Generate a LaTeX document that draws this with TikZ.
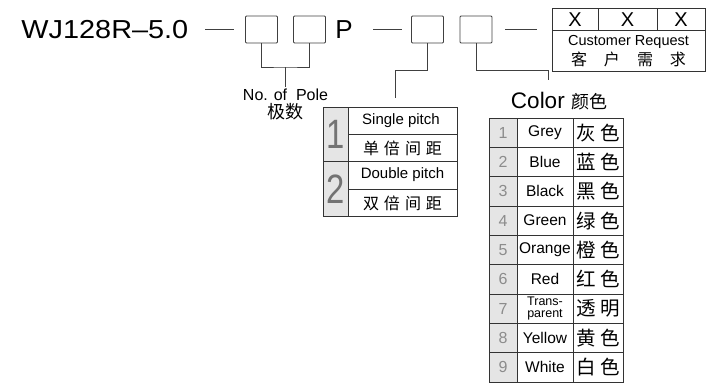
\documentclass[tikz,border=0pt]{standalone}
\usepackage{fontspec}
\setmainfont{Liberation Sans}
\newfontfamily\cjk{Noto Sans CJK SC}
\usetikzlibrary{positioning}

\tikzset{
  slot/.style={draw=black!75, rounded corners=1pt, minimum width=32pt, minimum height=27pt, inner sep=0pt},
  cell/.style={draw=black!80, line width=0.9pt},
  numfill/.style={fill=black!10},
  numtxt/.style={text=black!45},
}

\begin{document}
\begin{tikzpicture}[x=1pt,y=-1pt,line width=0.9pt]
\useasboundingbox (0,0) rectangle (720,391);

% model code
\node[anchor=base west, inner sep=0pt, font=\fontsize{26}{26}\selectfont] (model) at (21,38) {\scalebox{1.11}[1]{WJ128R–5.0}};
\draw[black!75] (205,29) -- (234,29);
\node[slot] (pole1) at (261.5,29.5) {};
\node[slot] (pole2) at (309.5,29.5) {};
\node[anchor=base west, inner sep=0pt, font=\fontsize{26}{26}\selectfont] (pch) at (335,38) {P};
\draw[black!75] (373,29) -- (402,29);
\node[slot] (pitch) at (427.5,29.5) {};
\node[slot] (color) at (476,29.5) {};
\draw[black!75] (505,29) -- (537,29);

% customer request
\draw[cell] (552,8) rectangle (705,71);
\draw[cell] (552,30) -- (705,30);
\draw[cell] (598,8) -- (598,30);
\draw[cell] (657,8) -- (657,30);
\node[font=\fontsize{20}{20}\selectfont] (x1) at (575,19.5) {X};
\node[font=\fontsize{20}{20}\selectfont] (x2) at (627.5,19.5) {X};
\node[font=\fontsize{20}{20}\selectfont] (x3) at (681,19.5) {X};
\node[font=\fontsize{14.5}{14.5}\selectfont] (req) at (628.5,42) {Customer Request};
\node[font=\cjk\fontsize{16}{16}\selectfont] (reqzh) at (628.5,59) {客\hspace{17pt}户\hspace{17pt}需\hspace{17pt}求};

% no. of pole
\coordinate (polejoin) at (285.5,67);
\draw[black!75] (pole1.south) |- (polejoin) -| (pole2.south);
\draw[black!75] (polejoin) -- ++(0,20) coordinate (poleend);
\node[font=\fontsize{16}{16}\selectfont] (poletxt) at (285.5,95) {No. of\ \ Pole};
\node[font=\cjk\fontsize{18}{18}\selectfont] (polezh) at (285.5,112) {极数};

% pitch
\draw[black!75] (pitch.south) |- (395,70) -- (395,98);
\fill[numfill] (323,107) rectangle (348,216);
\draw[cell] (323,107) rectangle (457,216);
\draw[cell] (348,107) -- (348,216);
\draw[cell] (323,161.5) -- (457,161.5);
\draw[cell] (348,134) -- (457,134);
\draw[cell] (348,189) -- (457,189);
\node[text=black!55, font=\fontsize{41}{41}\selectfont] (one) at (335.5,134.5) {\scalebox{0.8}[1]{1}};
\node[text=black!55, font=\fontsize{41}{41}\selectfont] (two) at (335.5,189) {\scalebox{0.8}[1]{2}};
\node[font=\fontsize{15}{15}\selectfont] (single) at (401,121) {Single pitch};
\node[font=\cjk\fontsize{16}{16}\selectfont] (singlezh) at (402.5,148) {单\hspace{5pt}倍\hspace{5pt}间\hspace{5pt}距};
\node[font=\fontsize{15}{15}\selectfont] (double) at (402.5,175) {Double pitch};
\node[font=\cjk\fontsize{16}{16}\selectfont] (doublezh) at (402.5,203) {双\hspace{5pt}倍\hspace{5pt}间\hspace{5pt}距};

% color
\draw[black!75] (color.south) |- (548,70) -- (548,80);
\node[font=\fontsize{22.5}{22.5}\selectfont] (colortxt) at (559,101) {Color {\cjk\fontsize{18}{18}\selectfont 颜色}};
\fill[numfill] (489,118) rectangle (517,382);
\foreach \n/\en/\zh/\fs [count=\i] in {1/Grey/灰 色/15.5, 2/Blue/蓝 色/15.5, 3/Black/黑 色/15.5, 4/Green/绿 色/15.5,
    5/Orange/橙 色/15.5, 6/Red/红 色/15.5, 7/{Trans-\\parent}/透 明/12.5, 8/Yellow/黄 色/15.5, 9/White/白 色/15.5}
{
  \draw[cell] (489,{118+29.33*(\i-1)}) rectangle (623,{118+29.33*\i});
  \node[numtxt, font=\fontsize{16}{16}\selectfont] (cn\i) at (503,{118+29.33*(\i-0.5)}) {\n};
  \node[inner sep=0pt, align=center, font=\fontsize{\fs}{11.5}\selectfont] (ce\i) at (545,{118+29.33*(\i-0.5)}) {\en};
  \node[font=\cjk\fontsize{19.5}{19.5}\selectfont] (cz\i) at (598,{118+29.33*(\i-0.5)}) {\zh};
}
\draw[cell] (517,118) -- (517,382);
\draw[cell] (573,118) -- (573,382);
\end{tikzpicture}
\end{document}
